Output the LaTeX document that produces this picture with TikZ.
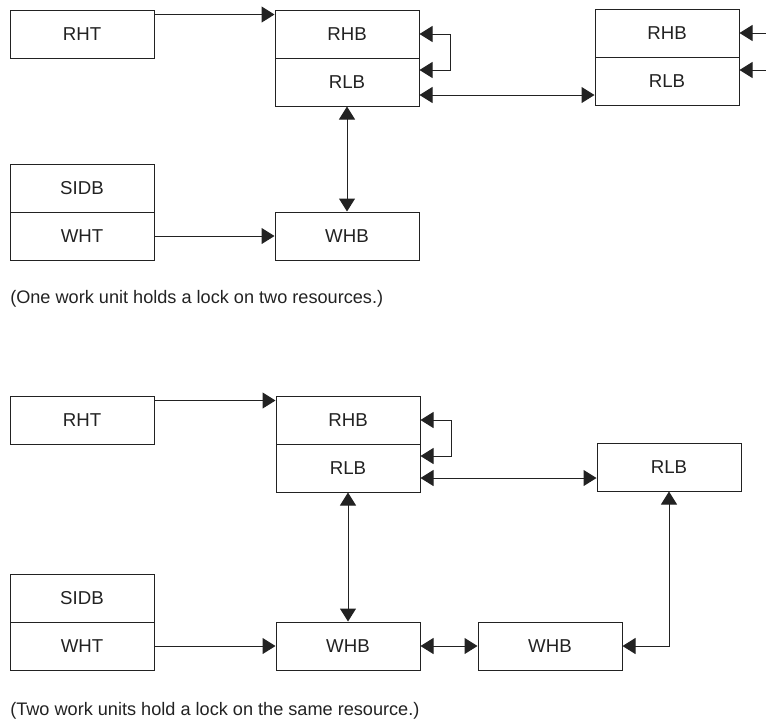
\documentclass[tikz,border=0pt]{standalone}
\usepackage{fontspec}
\setmainfont{Liberation Sans}
\usetikzlibrary{arrows.meta}
\definecolor{ink}{HTML}{222222}
\begin{document}
\begin{tikzpicture}[x=0.75pt,y=-0.75pt,
  box/.style={draw=ink,line width=0.75pt,rectangle,minimum width=108pt,minimum height=36pt,inner sep=0pt,text=ink,font=\fontsize{14}{16}\selectfont},
  link/.style={draw=ink,line width=0.75pt},
  tip/.style={-{Triangle[length=9.75pt,width=12pt]}},
  tips/.style={{Triangle[length=9.75pt,width=12pt]}-{Triangle[length=9.75pt,width=12pt]}},
  caption/.style={anchor=base west,inner sep=0pt,text=ink,font=\fontsize{13.6}{16}\selectfont}]
\useasboundingbox (0,0) rectangle (766,719);
% ---------- top diagram ----------
\node[box] (rhtA) at (82,34) {RHT};
\node[box] (rhbA) at (347,34) {RHB};
\node[box] (rlbA) at (347,82) {RLB};
\node[box] (rhbR) at (667,33) {RHB};
\node[box] (rlbR) at (667,81) {RLB};
\node[box] (sidbA) at (82,188) {SIDB};
\node[box] (whtA) at (82,236) {WHT};
\node[box] (whbA) at (347,236) {WHB};
\coordinate (inA) at (766,33);
\coordinate (inB) at (766,70);
\coordinate (loopA) at (450,34);
\coordinate (loopB) at (450,70);
\coordinate (rlA) at ([yshift=-9.75pt]rlbA.east);
\coordinate (rlbIn) at ([yshift=9pt]rlbA.east);
\draw[link,tip] ([yshift=-3.75pt]rhtA.north east) -- ([yshift=-3.75pt]rhbA.north west);
\draw[link,tips] (rhbA.east) -- (loopA) -- (loopB) -- (rlbIn);
\draw[link,tips] (rlA) -- (rlA -| rlbR.west);
\draw[link,tip] (inA) -- (rhbR.east);
\draw[link,tip] (inB) -- (inB -| rlbR.east);
\draw[link,tips] (rlbA.south) -- (whbA.north);
\draw[link,tip] (whtA.east) -- (whbA.west);
\node[caption] (capA) at (10,303) {(One work unit holds a lock on two resources.)};
% ---------- bottom diagram ----------
\node[box] (rhtB) at (82,420) {RHT};
\node[box] (rhbB) at (348,420) {RHB};
\node[box] (rlbB) at (348,468) {RLB};
\node[box] (rlbS) at (669,467) {RLB};
\node[box] (sidbB) at (82,598) {SIDB};
\node[box] (whtB) at (82,646) {WHT};
\node[box] (whbB) at (348,646) {WHB};
\node[box] (whbC) at (550,646) {WHB};
\coordinate (loopC) at (451,420);
\coordinate (loopD) at (451,456);
\coordinate (rlbInB) at ([yshift=9pt]rlbB.east);
\coordinate (rlB) at ([yshift=-7.5pt]rlbB.east);
\draw[link,tip] ([yshift=-3.75pt]rhtB.north east) -- ([yshift=-3.75pt]rhbB.north west);
\draw[link,tips] (rhbB.east) -- (loopC) -- (loopD) -- (rlbInB);
\draw[link,tips] (rlB) -- (rlB -| rlbS.west);
\draw[link,tips] (rlbB.south) -- (whbB.north);
\draw[link,tip] (whtB.east) -- (whbB.west);
\draw[link,tips] (whbB.east) -- (whbC.west);
\draw[link,tips] (rlbS.south) |- (whbC.east);
\node[caption] (capB) at (10,715) {(Two work units hold a lock on the same resource.)};
\end{tikzpicture}
\end{document}
